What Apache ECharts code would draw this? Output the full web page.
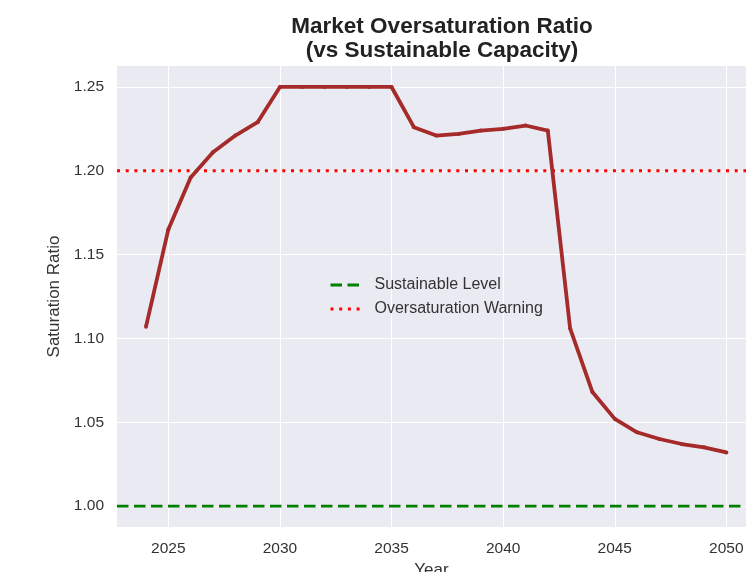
<!DOCTYPE html>
<html><head><meta charset="utf-8">
<script src="https://cdn.jsdelivr.net/npm/echarts@6/dist/echarts.min.js"></script>
<style>html,body{margin:0;padding:0;background:#fff}#c{width:746px;height:572px}</style>
</head><body><div id="c"></div>
<script>
const years = [2024,2025,2026,2027,2028,2029,2030,2031,2032,2033,2034,2035,2036,2037,2038,2039,2040,2041,2042,2043,2044,2045,2046,2047,2048,2049,2050];
const ratio = [1.107,1.165,1.196,1.211,1.221,1.229,1.250,1.250,1.250,1.250,1.250,1.250,1.226,1.221,1.222,1.224,1.225,1.227,1.224,1.106,1.068,1.052,1.044,1.040,1.037,1.035,1.032];
const sustainableLevel = 1.00;
const warningLevel = 1.20;
const xTicks = [2025,2030,2035,2040,2045,2050];
const yTicks = [1.00,1.05,1.10,1.15,1.20,1.25];

const xMin = 2022.7, xMax = 2050.88, yMin = 0.9875, yMax = 1.2625;
const font = '"Liberation Sans", Arial, sans-serif';
const chart = echarts.init(document.getElementById('c'));
chart.setOption({
  animation: false,
  backgroundColor: '#fff',
  title: {
    text: 'Market Oversaturation Ratio\n(vs Sustainable Capacity)',
    left: 437, top: 10, textAlign: 'center',
    textStyle: {fontFamily: font, fontSize: 22.5, fontWeight: 'bold', color: '#222', lineHeight: 24}
  },
  legend: {
    left: 324, top: 272, orient: 'vertical', itemGap: 8, itemWidth: 30, itemHeight: 16,
    itemStyle: {opacity: 0},
    lineStyle: {width: 3},
    textStyle: {fontFamily: font, fontSize: 16, color: '#333', padding: [0, 0, 0, 9]},
    data: ['Sustainable Level', 'Oversaturation Warning']
  },
  grid: {left: 117, right: 0, top: 66, bottom: 45, outerBoundsMode: 'none', show: true, backgroundColor: '#EAEAF2', borderWidth: 0},
  xAxis: {
    type: 'value', min: xMin, max: xMax,
    name: 'Year', nameLocation: 'middle', nameGap: 33,
    nameTextStyle: {fontFamily: font, fontSize: 17, color: '#333', verticalAlign: 'top'},
    axisLine: {show: false}, axisTick: {show: false, customValues: xTicks},
    axisLabel: {customValues: xTicks, fontFamily: font, fontSize: 15.5, color: '#333', margin: 14, formatter: v => String(Math.round(v))},
    splitLine: {show: true, lineStyle: {color: '#fff', width: 1}}
  },
  yAxis: {
    type: 'value', min: yMin, max: yMax,
    name: 'Saturation Ratio', nameLocation: 'middle', nameGap: 51, nameRotate: 90,
    nameTextStyle: {fontFamily: font, fontSize: 17, color: '#333'},
    axisLine: {show: false}, axisTick: {show: false, customValues: yTicks},
    axisLabel: {customValues: yTicks, fontFamily: font, fontSize: 15.5, color: '#333', margin: 13, formatter: v => v.toFixed(2)},
    splitLine: {show: true, lineStyle: {color: '#fff', width: 1}}
  },
  series: [
    {
      name: 'Saturation', type: 'line', data: years.map((y, i) => [y, ratio[i]]),
      symbol: 'circle', symbolSize: 4, showSymbol: true,
      lineStyle: {color: '#A52A2A', width: 3.8}, itemStyle: {color: '#A52A2A'}, z: 5
    },
    {
      name: 'Sustainable Level', type: 'line', data: [[xMin, sustainableLevel], [xMax, sustainableLevel]],
      symbol: 'none', lineStyle: {color: '#008000', width: 2.8, type: [11.5, 5.5]}, itemStyle: {color: '#008000'}, z: 4
    },
    {
      name: 'Oversaturation Warning', type: 'line', data: [[xMin, warningLevel], [xMax, warningLevel]],
      symbol: 'none', lineStyle: {color: '#FF0000', width: 2.8, type: [3, 5.7]}, itemStyle: {color: '#FF0000'}, z: 4
    }
  ]
});
</script></body></html>
